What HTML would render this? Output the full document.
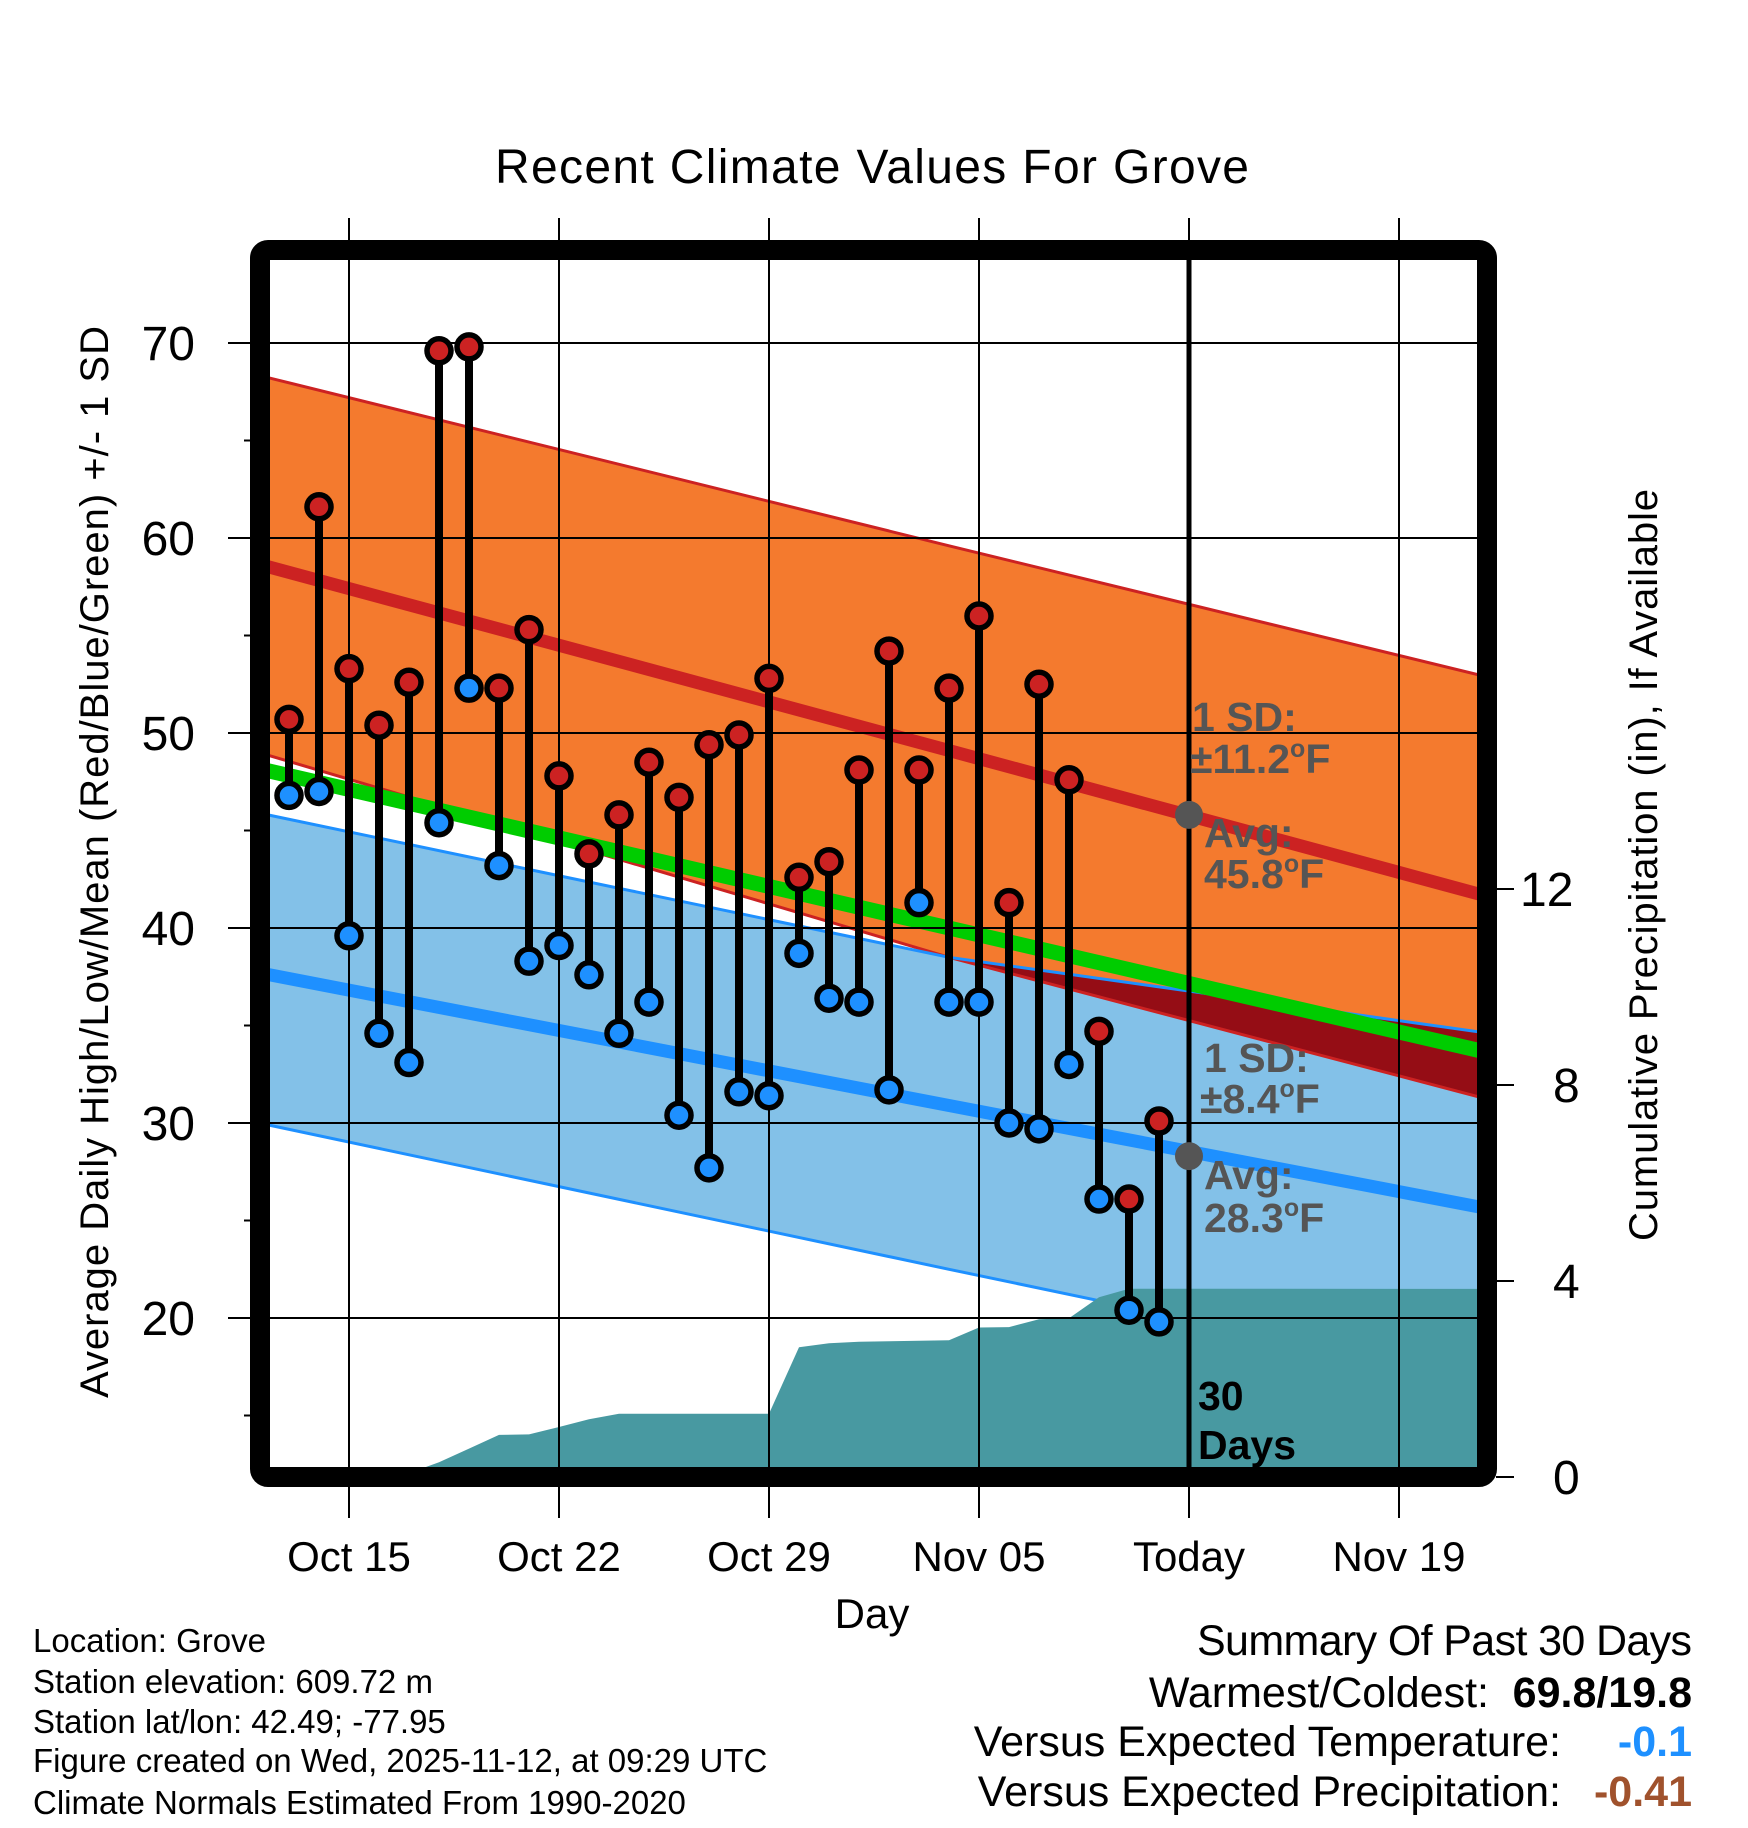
<!DOCTYPE html>
<html><head><meta charset="utf-8"><style>
html,body{margin:0;padding:0;background:#fff;}
svg{display:block;font-family:"Liberation Sans",Arial,sans-serif;}
</style></head><body>
<svg id="chart" width="1748" height="1828" viewBox="0 0 1748 1828" xmlns="http://www.w3.org/2000/svg">
<defs><clipPath id="plotclip"><rect x="270" y="259" width="1208" height="1209"/></clipPath></defs>
<g id="plot" clip-path="url(#plotclip)"></g>
<g id="over"></g>
<rect x="260" y="250" width="1227" height="1227" rx="8" fill="none" stroke="#000" stroke-width="20"/>
<g id="axes"></g>
<text x="872" y="183" font-size="48" text-anchor="middle" textLength="754">Recent Climate Values For Grove</text>
<text transform="translate(108,862) rotate(-90)" font-size="40" text-anchor="middle" textLength="1072">Average Daily High/Low/Mean (Red/Blue/Green) +/- 1 SD</text>
<text transform="translate(1657,865) rotate(-90)" font-size="40" text-anchor="middle" textLength="752">Cumulative Precipitation (in), If Available</text>
<text x="872" y="1628" font-size="42" text-anchor="middle">Day</text>
<g font-size="33">
<text x="33" y="1652">Location: Grove</text>
<text x="33" y="1693">Station elevation: 609.72 m</text>
<text x="33" y="1733">Station lat/lon: 42.49; -77.95</text>
<text x="33" y="1772">Figure created on Wed, 2025-11-12, at 09:29 UTC</text>
<text x="33" y="1814">Climate Normals Estimated From 1990-2020</text>
</g>
<g font-size="43">
<text x="1692" y="1655" text-anchor="end" textLength="495">Summary Of Past 30 Days</text>
<text x="1489" y="1707" text-anchor="end">Warmest/Coldest:</text>
<text x="1692" y="1707" text-anchor="end" font-weight="bold">69.8/19.8</text>
<text x="1561" y="1756" text-anchor="end">Versus Expected Temperature:</text>
<text x="1692" y="1756" text-anchor="end" font-weight="bold" fill="#1e90ff">-0.1</text>
<text x="1561" y="1806" text-anchor="end">Versus Expected Precipitation:</text>
<text x="1692" y="1806" text-anchor="end" font-weight="bold" fill="#a0522d">-0.41</text>
</g>
</svg>
<script>
// Day offsets from Oct 12
const obsDays = [1,2,3,4,5,6,7,8,9,10,11,12,13,14,15,16,17,18,19,20,21,22,23,24,25,26,27,28,29,30];
const highs = [50.7,61.6,53.3,50.4,52.6,69.6,69.8,52.3,55.3,47.8,43.8,45.8,48.5,46.7,49.4,49.9,52.8,42.6,43.4,48.1,54.2,48.1,52.3,56.0,41.3,52.5,47.6,34.7,26.1,30.1];
const lows = [46.8,47.0,39.6,34.6,33.1,45.4,52.3,43.2,38.3,39.1,37.6,34.6,36.2,30.4,27.7,31.6,31.4,38.7,36.4,36.2,31.7,41.3,36.2,36.2,30.0,29.7,33.0,26.1,20.4,19.8];
const precip = [0,0,0,0,0.08,0.3,0.58,0.86,0.87,1.02,1.18,1.29,1.29,1.29,1.29,1.29,1.29,2.65,2.73,2.76,2.77,2.78,2.79,3.05,3.06,3.22,3.24,3.67,3.84,3.84];
const normDays = [0,23,41];
const normHighUpper = [68.34,59.6,52.85];
const normHighMean = [58.65,49.1,41.6];
const normHighLower = [49.0,38.5,31.2];
const normLowUpper = [45.9,38.5,34.6];
const normLowMean = [37.7,30.9,25.6];
const normLowLower = [30.0,22.5,16.7];
const xTickDays = [3,10,17,24,31,38];
const xTickLabels = ["Oct 15","Oct 22","Oct 29","Nov 05","Today","Nov 19"];
const yTicks = [20,30,40,50,60,70];
const yMinor = [15,25,35,45,55,65];
const pTicks = [0,4,8,12];
const todayDay = 31;
const todayHighAvg = 45.8, todayLowAvg = 28.3;

const NS = "http://www.w3.org/2000/svg";
const xS = d => 259 + 30*d;
const yS = t => 343 + (70 - t)*19.5;
const pS = p => 1477 - 49*p;
const plot = document.getElementById('plot');
const over = document.getElementById('over');
const axes = document.getElementById('axes');
function mk(tag, attrs, parent){ const e=document.createElementNS(NS,tag); for(const k in attrs) e.setAttribute(k,attrs[k]); parent.appendChild(e); return e; }
function pts(days, vals){ return days.map((d,i)=>xS(d).toFixed(1)+','+yS(vals[i]).toFixed(1)); }
function band(upper, lower){ const a=pts(normDays,upper), b=pts(normDays,lower).reverse(); return a.concat(b).join(' '); }
const normMean = normHighMean.map((v,i)=>(v+normLowMean[i])/2);

let e;
e = mk('polygon',{points:band(normHighUpper,normHighLower),fill:'#f47a2e'},plot);
 
e = mk('polygon',{points:band(normLowUpper,normLowLower),fill:'#83c1e8'},plot);
 
{ const ov=[]; for(let i=0;i<normDays.length;i++){ ov.push(Math.max(normLowUpper[i],normHighLower[i])); }
  e = mk('polygon',{points:band(ov,normHighLower),fill:'#950d15'},plot);
    }
[[normHighUpper,'#cc2222',3,'high-upper-line'],[normHighLower,'#cc2222',3,'high-lower-line'],[normLowUpper,'#1e90ff',3,'low-upper-line'],[normLowLower,'#1e90ff',3,'low-lower-line'],[normHighMean,'#cc2222',13,'high-mean-line'],[normLowMean,'#1e90ff',13,'low-mean-line'],[normMean,'#00cc00',15,'mean-line']].forEach(s=>{
  e = mk('polyline',{points:pts(normDays,s[0]).join(' '),fill:'none',stroke:s[1],'stroke-width':s[2]},plot);
   
});
{ const top=obsDays.map((d,i)=>xS(d).toFixed(1)+','+pS(precip[i]).toFixed(1));
  const last=precip[precip.length-1];
  const p=[xS(0)+','+pS(0), xS(0.37)+','+pS(0)].concat(top).concat([xS(42)+','+pS(last), xS(42)+','+pS(0)]);
  e = mk('polygon',{points:p.join(' '),fill:'#4899a1'},plot);
    }
yTicks.forEach(t=>{ e=mk('line',{x1:228,x2:1478,y1:yS(t),y2:yS(t),stroke:'#000','stroke-width':2},over);
    });
yMinor.forEach(t=>{ e=mk('line',{x1:244,x2:260,y1:yS(t),y2:yS(t),stroke:'#000','stroke-width':2},over);
    });
xTickDays.forEach(d=>{ e=mk('line',{x1:xS(d),x2:xS(d),y1:218,y2:1518,stroke:'#000','stroke-width':2},over);
    });
e=mk('line',{x1:xS(todayDay),x2:xS(todayDay),y1:259,y2:1470,stroke:'#000','stroke-width':5},over);
 
obsDays.forEach((d,i)=>{ e=mk('line',{x1:xS(d),x2:xS(d),y1:yS(highs[i]),y2:yS(lows[i]),stroke:'#000','stroke-width':8},over);
    });
obsDays.forEach((d,i)=>{
  e=mk('circle',{cx:xS(d),cy:yS(highs[i]),r:12,fill:'#cc2222',stroke:'#000','stroke-width':5.5},over);
   
  e=mk('circle',{cx:xS(d),cy:yS(lows[i]),r:12,fill:'#1e90ff',stroke:'#000','stroke-width':5.5},over);
   
});
e=mk('circle',{cx:xS(todayDay),cy:yS(todayHighAvg),r:14,fill:'#555'},over);
 
e=mk('circle',{cx:xS(todayDay),cy:yS(todayLowAvg),r:14,fill:'#555'},over);
 
function ann(x,y,txt,name,col,deg){ const t=mk('text',{x:x,y:y,'font-size':41,'font-weight':'bold',fill:col},over);
   
  t.textContent=txt;
  if(deg){ const s=mk('tspan',{'font-size':25,dy:-16},t); s.textContent='o'; const f=mk('tspan',{dy:16},t); f.textContent='F'; }
  return t; }
ann(1192,731,'1 SD:','high-sd-label','#555');
ann(1190,773,'±11.2','high-sd-value','#555',true);
ann(1204,847,'Avg:','high-avg-label','#555');
ann(1204,888,'45.8','high-avg-value','#555',true);
ann(1204,1072,'1 SD:','low-sd-label','#555');
ann(1200,1113,'±8.4','low-sd-value','#555',true);
ann(1204,1189,'Avg:','low-avg-label','#555');
ann(1204,1232,'28.3','low-avg-value','#555',true);
ann(1198,1410,'30','days-count','#000');
ann(1198,1459,'Days','days-label','#000');
yTicks.forEach(t=>{ e=mk('text',{x:195,y:yS(t)+17,'font-size':48,'text-anchor':'end'},axes); e.textContent=t;
    });
xTickDays.forEach((d,i)=>{ e=mk('text',{x:xS(d),y:1571,'font-size':42,'text-anchor':'middle'},axes); e.textContent=xTickLabels[i];
    });
pTicks.forEach(p=>{ e=mk('line',{x1:1496,x2:1514,y1:pS(p),y2:pS(p),stroke:'#000','stroke-width':2},axes);
   
  e=mk('text',{x:p>=10?1520:1553,y:pS(p)+17,'font-size':48},axes); e.textContent=p;
    });
</script>
</body></html>
